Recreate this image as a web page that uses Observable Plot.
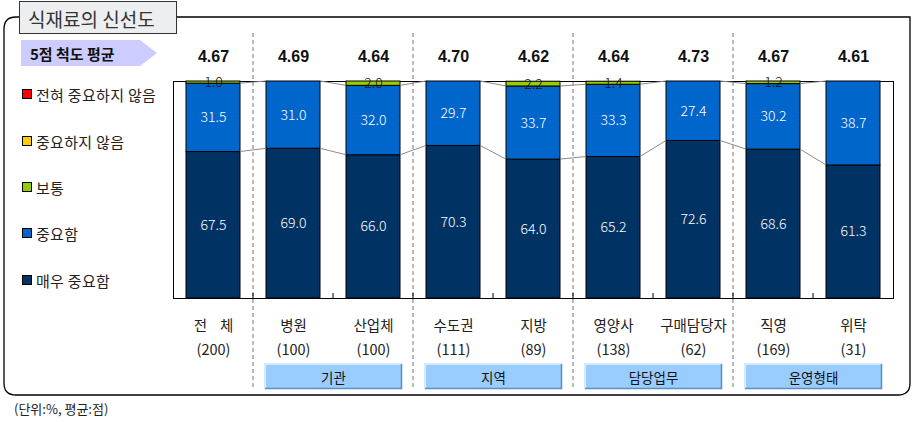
<!DOCTYPE html>
<html>
<head>
<meta charset="utf-8">
<script src="https://cdn.jsdelivr.net/npm/d3@7"></script>
<script src="https://cdn.jsdelivr.net/npm/@observablehq/plot@0.6"></script>
<style>
  html, body { margin: 0; padding: 0; background: #fff; }
  #chart { width: 913px; height: 422px; position: relative; }
</style>
</head>
<body>
<div id="chart"></div>
<script>
// ---- data ----
const categories = ["전\u00a0\u00a0\u00a0\u00a0체", "병원", "산업체", "수도권", "지방", "영양사", "구매담당자", "직영", "위탁"];
const counts = ["(200)", "(100)", "(100)", "(111)", "(89)", "(138)", "(62)", "(169)", "(31)"];
const averages = [4.67, 4.69, 4.64, 4.70, 4.62, 4.64, 4.73, 4.67, 4.61];
const levels = ["매우 중요함", "중요함", "보통", "중요하지 않음", "전혀 중요하지 않음"]; // bottom -> top
const levelColors = ["#003264", "#0066cc", "#99cc00", "#ffcc00", "#ff0000"];
const veryImportant = [67.5, 69.0, 66.0, 70.3, 64.0, 65.2, 72.6, 68.6, 61.3];
const important = [31.5, 31.0, 32.0, 29.7, 33.7, 33.3, 27.4, 30.2, 38.7];
const neutral = [1.0, 0, 2.0, 0, 2.2, 1.4, 0, 1.2, 0];
const notImportant = [0, 0, 0, 0, 0, 0, 0, 0, 0];
const notAtAll = [0, 0, 0, 0, 0, 0, 0, 0, 0];
const groupNames = ["기관", "지역", "담당업무", "운영형태"];
const groupFirst = [1, 3, 5, 7];
const groupLast = [2, 4, 6, 8];
const title = "식재료의 신선도";
const avgLabel = "5점 척도 평균";
const unitNote = "(단위:%, 평균:점)";

// ---- build stacked rows ----
const series = [veryImportant, important, neutral, notImportant, notAtAll];
const rows = [];
categories.forEach((c, i) => {
  let acc = 0;
  series.forEach((s, k) => {
    const v = s[i];
    if (v > 0) rows.push({cat: c, level: levels[k], k, value: v, y1: acc, y2: acc + v});
    acc += v;
  });
});
const avgOf = new Map(categories.map((c, i) => [c, averages[i].toFixed(2)]));
const countOf = new Map(categories.map((c, i) => [c, counts[i]]));
const KFONT = "'Noto Sans CJK KR', 'Noto Sans', sans-serif";

const plot = Plot.plot({
  width: 913,
  height: 422,
  marginLeft: 173,
  marginRight: 20,
  marginTop: 81,
  marginBottom: 124,
  style: {fontFamily: KFONT, background: "transparent", color: "#222", overflow: "visible"},
  x: {domain: categories, paddingInner: 0.325, paddingOuter: 0.1625, axis: null},
  y: {domain: [0, 100], axis: null},
  color: {domain: levels, range: levelColors},
  marks: [
    Plot.frame({stroke: "#000", strokeWidth: 1}),
    Plot.barY(rows, {x: "cat", y1: "y1", y2: "y2", fill: "level", stroke: "#000", strokeWidth: 1}),
    Plot.text(rows.filter(d => d.k < 2), {x: "cat", y: d => (d.y1 + d.y2) / 2, text: d => d.value.toFixed(1), fill: "#fff", fontSize: 14, fontWeight: 300}),
    Plot.text(rows.filter(d => d.k >= 2), {x: "cat", y: d => (d.y1 + d.y2) / 2, text: d => d.value.toFixed(1), fill: "#111", fontSize: 14, fontWeight: 300}),
    Plot.axisX({anchor: "top", label: null, tickSize: 0, tickPadding: 20, tickFormat: d => avgOf.get(d), fontSize: 16, fontWeight: "bold", fontFamily: "'Liberation Sans', Arial, sans-serif", fill: "#111"}),
    Plot.axisX({anchor: "bottom", label: null, tickSize: 0, tickPadding: 22, tickFormat: d => d, fontSize: 14.5, fill: "#222"}),
    Plot.axisX({anchor: "bottom", label: null, tickSize: 0, tickPadding: 46, tickFormat: d => countOf.get(d), fontSize: 14.5, fill: "#222"})
  ]
});

document.getElementById("chart").appendChild(plot);

const xs = plot.scale("x");
const ys = plot.scale("y");
const bw = xs.bandwidth;
const step = xs.step;
const left = c => xs.apply(c);
const svg = d3.select(plot);

// background layer: outer rounded frame
const bg = svg.insert("g", ":first-child");
bg.append("path")
  .attr("d", "M 16 17 L 910 17 L 910 383 Q 910 395 898 395 L 16 395 Q 4 395 4 383 L 4 29 Q 4 17 16 17 Z")
  .attr("fill", "none").attr("stroke", "#000").attr("stroke-width", 1.3);

const fg = svg.append("g").attr("text-anchor", "start");

// dashed separators between groups
[0, 2, 4, 6].forEach(i => {
  const x = left(categories[i]) + bw + (step - bw) / 2;
  fg.append("line").attr("x1", x).attr("x2", x).attr("y1", 33).attr("y2", 389)
    .attr("stroke", "#777").attr("stroke-dasharray", "4,3").attr("stroke-width", 1);
});

// small ticks at category boundaries
for (let i = 0; i < categories.length - 1; i++) {
  const x = left(categories[i]) + bw + (step - bw) / 2;
  fg.append("line").attr("x1", x).attr("x2", x).attr("y1", ys.apply(0)).attr("y2", ys.apply(0) - 5)
    .attr("stroke", "#000");
}

// connecting lines between bars
const cum1 = veryImportant;
const cum2 = veryImportant.map((v, i) => v + important[i]);
[cum1, cum2].forEach(cum => {
  for (let i = 0; i < categories.length - 1; i++) {
    fg.append("line")
      .attr("x1", left(categories[i]) + bw).attr("y1", ys.apply(cum[i]))
      .attr("x2", left(categories[i + 1])).attr("y2", ys.apply(cum[i + 1]))
      .attr("stroke", "#8a8a8a").attr("stroke-width", 1);
  }
});

// group boxes
groupNames.forEach((g, j) => {
  const x1 = left(categories[groupFirst[j]]) - 1;
  const x2 = left(categories[groupLast[j]]) + bw + 2;
  const y1 = 364, y2 = 389;
  const gg = fg.append("g");
  gg.append("rect").attr("x", x1).attr("y", y1).attr("width", x2 - x1).attr("height", y2 - y1).attr("fill", "#99ccff");
  gg.append("path").attr("d", `M ${x1} ${y2} L ${x1} ${y1} L ${x2} ${y1}`).attr("fill", "none").attr("stroke", "#d4eaff").attr("stroke-width", 2);
  gg.append("path").attr("d", `M ${x1} ${y2 - 0.5} L ${x2 - 0.5} ${y2 - 0.5} L ${x2 - 0.5} ${y1}`).attr("fill", "none").attr("stroke", "#5a8ec2").attr("stroke-width", 1.5);
  gg.append("text").attr("x", (x1 + x2) / 2).attr("y", (y1 + y2) / 2).attr("text-anchor", "middle")
    .attr("dominant-baseline", "central").attr("font-size", 13.5).attr("fill", "#111").attr("font-family", KFONT).text(g);
});

// title box
fg.append("rect").attr("x", 19.5).attr("y", 1.5).attr("width", 157).attr("height", 32)
  .attr("fill", "#eceef0").attr("stroke", "#333").attr("stroke-width", 1);
fg.append("text").attr("x", 28).attr("y", 18).attr("dominant-baseline", "central")
  .attr("font-size", 19).attr("fill", "#333").attr("font-family", KFONT).text(title);

// average label arrow
fg.append("path").attr("d", "M 21 40 L 140 40 L 157 53 L 140 66 L 21 66 Z").attr("fill", "#ccccff");
fg.append("text").attr("x", 30).attr("y", 53).attr("dominant-baseline", "central")
  .attr("font-size", 15).attr("font-weight", "bold").attr("fill", "#111").attr("font-family", KFONT).text(avgLabel);

// legend (top -> bottom)
const legendOrder = levels.slice().reverse();
const legendY = [94, 141, 187, 233, 280];
legendOrder.forEach((l, i) => {
  const c = levelColors[levels.indexOf(l)];
  fg.append("rect").attr("x", 22.5).attr("y", legendY[i] - 4.5).attr("width", 9).attr("height", 9)
    .attr("fill", c).attr("stroke", "#000").attr("stroke-width", 1);
  fg.append("text").attr("x", 36).attr("y", legendY[i]).attr("dominant-baseline", "central")
    .attr("font-size", 15).attr("letter-spacing", 0.3).attr("fill", "#222").attr("font-family", KFONT).text(l);
});

// unit note
fg.append("text").attr("x", 14).attr("y", 408).attr("dominant-baseline", "central")
  .attr("font-size", 13).attr("fill", "#222").attr("font-family", KFONT).text(unitNote);
</script>
</body>
</html>
